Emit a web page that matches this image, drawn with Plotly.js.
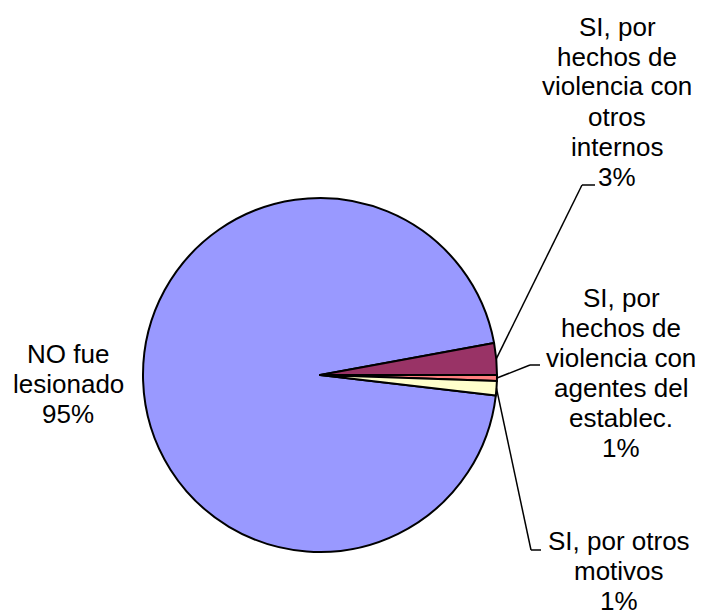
<!DOCTYPE html>
<html>
<head>
<meta charset="utf-8">
<script src="https://cdn.plot.ly/plotly-3.0.1.min.js"></script>
<style>html,body{margin:0;padding:0;background:#fff;}#chart{width:712px;height:615px;}</style>
</head>
<body>
<div id="chart"></div>
<script>
// ---- data ----
const categories = [
  'NO fue lesionado',
  'SI, por hechos de violencia con otros internos',
  'SI, por hechos de violencia con agentes del establec.',
  'SI, por otros motivos'
];
const values = [95.25, 2.9, 0.55, 1.3];
const labelLines = [
  ['NO fue', 'lesionado'],
  ['SI, por', 'hechos de', 'violencia con', 'otros', 'internos'],
  ['SI, por', 'hechos de', 'violencia con', 'agentes del', 'establec.'],
  ['SI, por otros', 'motivos']
];
const colors = ['#9999FF', '#993366', '#FF8080', '#FFFFCC'];

// ---- layout constants (pixels) ----
const W = 712, H = 615;
const CX = 320, CY = 375, R = 177;
const FONT = 26, LINE = 30;
// label block: center x, first line center y
const labelPos = [
  {x: 68, y: 354},
  {x: 617, y: 26.5},
  {x: 621, y: 298},
  {x: 619, y: 541}
];
// leader line elbow and end (pixels); index 0 has none
const leaders = [null,
  {ex: 582, ey: 185, tx: 595},
  {ex: 530, ey: 365, tx: 540},
  {ex: 531, ey: 550, tx: 541}
];

const total = values.reduce((a, b) => a + b, 0);
// first slice (NO) starts so that slice 1 ends at 3 o'clock (90deg clockwise from 12)
const rotation = 90 - 360 * (values[0] + values[1]) / total;

const px = x => x / W;
const py = y => 1 - y / H;

const annotations = [];
const shapes = [];
let cum = 0;
values.forEach((v, i) => {
  const pct = Math.round(100 * v / total) + '%';
  const lines = labelLines[i].concat([pct]);
  lines.forEach((t, k) => {
    annotations.push({
      text: t, x: px(labelPos[i].x), y: py(labelPos[i].y + k * LINE),
      xref: 'paper', yref: 'paper', xanchor: 'center', yanchor: 'middle',
      showarrow: false, font: {family: 'Liberation Sans, Arial, sans-serif', size: FONT, color: '#000'}
    });
  });
  const mid = (rotation + 360 * (cum + v / 2) / total) * Math.PI / 180;
  cum += v;
  const L = leaders[i];
  if (L) {
    const ax = CX + R * Math.sin(mid), ay = CY - R * Math.cos(mid);
    shapes.push({type: 'line', xref: 'paper', yref: 'paper', x0: px(ax), y0: py(ay), x1: px(L.ex), y1: py(L.ey), line: {color: '#000', width: 1.5}});
    shapes.push({type: 'line', xref: 'paper', yref: 'paper', x0: px(L.ex), y0: py(L.ey), x1: px(L.tx), y1: py(L.ey), line: {color: '#000', width: 1.5}});
  }
});

const trace = {
  type: 'pie',
  labels: categories,
  values: values,
  sort: false,
  direction: 'clockwise',
  rotation: rotation,
  textinfo: 'none',
  hoverinfo: 'label+percent',
  showlegend: false,
  marker: {colors: colors, line: {color: '#000', width: 2}},
  domain: {x: [px(CX - R), px(CX + R)], y: [py(CY + R), py(CY - R)]}
};

const layout = {
  width: W, height: H,
  margin: {l: 0, r: 0, t: 0, b: 0},
  paper_bgcolor: '#fff',
  showlegend: false,
  annotations: annotations,
  shapes: shapes
};

Plotly.newPlot('chart', [trace], layout, {displayModeBar: false, staticPlot: true});
</script>
</body>
</html>
